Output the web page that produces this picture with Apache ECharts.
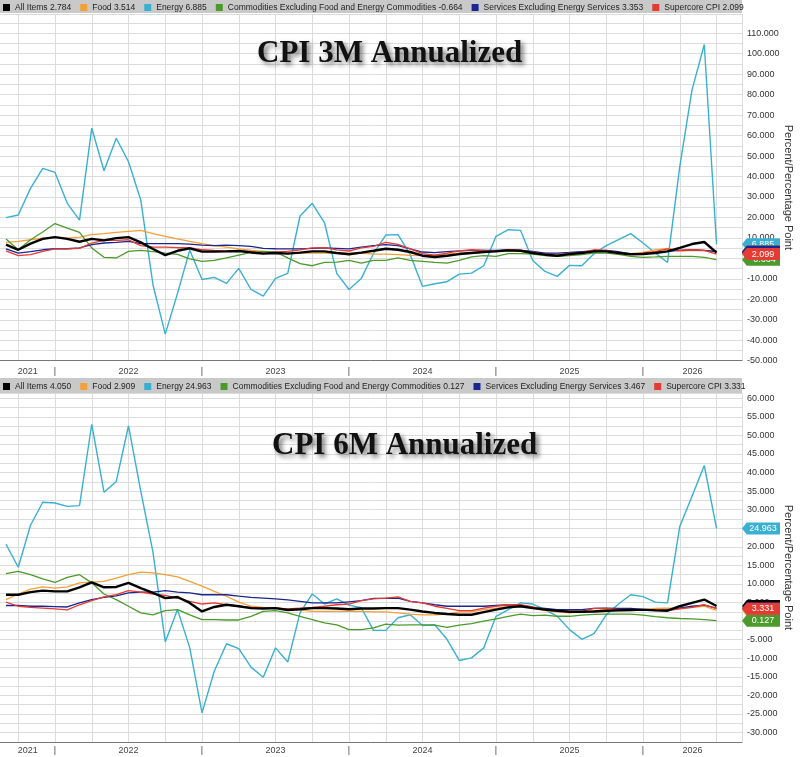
<!DOCTYPE html>
<html>
<head>
<meta charset="utf-8">
<title>CPI 3M / 6M Annualized</title>
<script src="https://cdn.jsdelivr.net/npm/echarts@6/dist/echarts.min.js"></script>
<style>
  html, body { margin: 0; padding: 0; background: #fff; }
  #main { width: 800px; height: 757px; }
</style>
</head>
<body>
<div id="main"></div>
<script>
// monthly observations, Mar 2021 .. Jan 2026
const months = [
  '2021-03','2021-04','2021-05','2021-06','2021-07','2021-08','2021-09','2021-10','2021-11','2021-12',
  '2022-01','2022-02','2022-03','2022-04','2022-05','2022-06','2022-07','2022-08','2022-09','2022-10','2022-11','2022-12',
  '2023-01','2023-02','2023-03','2023-04','2023-05','2023-06','2023-07','2023-08','2023-09','2023-10','2023-11','2023-12',
  '2024-01','2024-02','2024-03','2024-04','2024-05','2024-06','2024-07','2024-08','2024-09','2024-10','2024-11','2024-12',
  '2025-01','2025-02','2025-03','2025-04','2025-05','2025-06','2025-07','2025-08','2025-09','2025-10','2025-11','2025-12',
  '2026-01'
];

const names = ['All Items', 'Food', 'Energy', 'Commodities Excluding Food and Energy Commodities',
  'Services Excluding Energy Services', 'Supercore CPI'];

// 3M annualized
const allItems3m = [6.7,4.2,7.2,9.5,10.4,9.5,8.1,9.5,8.8,9.9, 10.4,7.8,4.6,1.6,3.7,4.9,3.3,3.3,3.4,3.6,
  2.9,2.3,2.6,2.3,2.8,3.4,3.4,2.6,2.0,2.8, 3.7,4.7,4.2,3.1,1.3,0.7,1.3,2.1,2.6,3.1,
  3.4,3.9,3.7,2.6,1.8,1.3,2.1,2.6,3.4,3.4, 2.6,2.0,2.1,2.6,3.4,5.1,7.0,8.0,2.784];
const food3m = [7.8,8.3,9.1,9.9,10.4,9.9,10.4,11.6,12.1,12.7, 13.2,13.7,12.1,10.8,9.5,8.3,7.2,6.2,5.5,4.6,
  3.9,3.4,2.9,2.6,2.6,2.6,2.6,2.6,2.6,2.6, 2.1,2.1,1.8,1.5,1.3,1.6,2.1,2.6,2.9,3.3,
  3.6,3.6,3.4,2.9,2.6,2.0,2.6,3.1,3.7,3.7, 2.9,2.3,2.9,4.2,4.9,3.4,3.9,3.7,3.514];
const energy3m = [19.9,21.2,34.2,44.0,42.0,26.9,18.7,63.6,42.8,58.7, 47.2,28.5,-13.0,-37.0,-17.1,4.0,-10.3,-9.3,-12.2,-4.9,
  -15.2,-18.4,-9.8,-7.3,20.7,26.9,17.4,-7.3,-15.2,-9.8, 2.4,11.4,11.6,1.8,-13.7,-12.4,-11.4,-7.7,-7.2,-3.6,
  10.8,14.0,13.7,-1.0,-6.4,-8.8,-3.4,-3.6,2.3,6.2, 9.1,12.1,7.5,2.6,-2.0,44.8,82.3,104.5,6.885];
const coreGoods3m = [9.5,4.2,9.1,12.9,17.0,14.8,12.7,5.1,0.5,0.2, 3.4,3.9,3.3,2.6,2.0,-0.2,-1.5,-1.0,0.2,1.6,
  2.9,3.4,3.1,0.2,-2.6,-3.6,-2.0,-1.8,-1.0,-2.3, -1.0,-1.0,0.2,-1.0,-1.5,-2.0,-2.3,-1.0,0.7,1.3,
  1.0,2.3,2.3,2.1,1.3,1.0,1.3,1.8,2.6,2.6, 2.0,1.0,0.5,0.7,1.0,1.0,1.0,0.5,-0.664];
const services3m = [4.6,2.6,3.3,4.2,4.7,4.7,5.1,6.7,7.5,7.8, 8.3,7.2,7.2,7.2,7.2,7.0,6.5,6.2,6.5,6.2,
  5.9,4.9,4.7,4.6,4.6,4.9,5.1,4.9,4.6,5.5, 6.2,6.7,6.2,4.6,3.1,2.8,3.3,3.7,3.9,3.9,
  3.9,4.2,3.9,3.4,2.6,2.6,2.9,3.3,3.7,3.9, 3.3,2.1,2.3,2.9,3.4,3.9,4.2,3.9,3.353];
const supercore3m = [3.7,1.3,1.8,3.4,4.6,4.6,4.9,7.5,8.8,8.8, 9.1,6.2,5.5,5.5,5.2,5.2,4.2,3.9,3.7,3.6,
  3.4,2.6,3.1,3.4,4.2,5.1,5.2,4.2,3.6,5.1, 5.9,7.8,6.8,4.6,2.3,1.6,2.6,3.7,4.2,3.9,
  3.4,4.2,3.9,3.1,1.8,1.3,2.6,2.9,4.2,3.9, 2.6,2.0,2.6,3.3,4.6,3.9,4.2,3.9,2.099];

// 6M annualized
const allItems6m = [7.1,7.1,7.8,8.2,8.0,8.0,9.1,10.4,9.1,9.2, 10.3,8.9,7.6,6.2,6.5,4.9,2.6,3.8,4.4,4.0,
  3.5,3.4,3.5,3.0,3.2,3.5,3.5,3.4,3.2,3.4, 3.4,3.5,3.5,3.1,2.6,2.2,1.9,1.7,1.7,2.4,
  3.1,3.7,4.0,3.5,3.1,2.8,2.5,2.5,2.6,2.8, 2.9,3.0,3.1,2.9,2.8,4.0,4.9,5.8,4.050];
const food6m = [5.8,7.3,8.6,9.2,8.9,9.2,10.3,10.5,10.7,11.6, 12.5,13.2,13.0,12.5,11.9,10.7,9.4,8.0,6.7,5.1,
  4.0,3.7,3.5,3.3,3.0,2.6,2.6,2.6,2.6,2.6, 2.5,2.5,2.2,1.9,1.7,1.7,1.9,2.5,2.5,3.1,
  3.4,4.0,4.2,3.5,2.8,2.5,2.2,2.5,2.8,3.1, 2.8,2.8,3.1,3.4,3.5,3.4,3.7,4.0,2.909];
const energy6m = [20.7,14.5,25.8,32.0,31.8,30.9,31.1,53.0,34.7,37.6, 52.6,35.0,18.5,-5.6,3.1,-7.2,-24.7,-13.5,-6.1,-7.4,
  -12.4,-15.1,-7.2,-11.0,2.2,7.3,4.6,6.0,4.3,3.6, -2.5,-2.5,0.9,1.7,-1.2,-1.0,-4.9,-10.6,-9.9,-7.2,
  1.3,3.1,4.9,4.6,3.1,1.3,-2.3,-4.9,-3.4,1.7, 4.6,7.1,6.6,5.1,4.9,25.5,33.6,41.9,24.963];
const coreGoods6m = [12.8,13.4,12.5,11.4,10.4,11.8,12.5,10.3,7.3,5.8, 4.0,2.2,1.7,2.8,3.1,1.7,0.4,0.4,0.3,0.3,
  1.3,2.6,2.8,2.2,1.3,0.4,-0.5,-1.0,-2.3,-2.3, -1.8,-0.8,-1.1,-1.0,-1.0,-1.1,-1.7,-1.1,-0.7,0.0,
  0.6,1.3,1.9,1.5,1.6,1.3,1.3,1.6,1.8,1.9, 1.9,1.9,1.6,1.2,0.9,0.7,0.6,0.4,0.127];
const services6m = [4.2,4.2,4.0,4.0,3.9,3.8,4.9,5.8,6.4,6.8, 7.6,7.8,7.8,8.2,7.8,7.6,7.1,7.1,7.1,6.7,
  6.4,6.2,6.0,5.7,5.3,4.9,4.9,4.9,5.2,5.5, 6.1,6.1,6.2,5.3,4.9,4.4,4.0,4.0,4.0,4.0,
  4.2,4.4,4.3,3.7,3.4,3.1,3.1,3.1,3.4,3.5, 3.4,3.4,3.1,3.0,3.0,3.5,4.0,4.3,3.467];
const supercore6m = [5.1,4.0,3.7,3.5,3.3,3.0,4.4,5.5,6.5,7.1, 8.2,7.8,7.3,6.9,6.2,5.3,4.6,4.9,4.4,4.0,
  3.7,3.5,3.5,3.3,3.5,3.7,4.0,4.4,4.6,5.5, 6.0,6.2,6.5,5.3,4.9,4.0,3.4,2.8,2.8,3.5,
  4.0,4.4,4.4,3.8,3.1,2.8,2.6,2.6,3.4,3.4, 3.1,3.1,3.1,3.1,2.8,3.3,3.7,4.4,3.331];

const panel3m = [allItems3m, food3m, energy3m, coreGoods3m, services3m, supercore3m];
const panel6m = [allItems6m, food6m, energy6m, coreGoods6m, services6m, supercore6m];

const colors = ['#000000', '#f4a038', '#38b0d2', '#4b9a2b', '#1c2590', '#e43b33'];
const widths = [2.4, 1.3, 1.4, 1.3, 1.3, 1.3];
const lineZ = [5, 3, 2, 3, 3, 4];
const tagZ = [6, 6, 5, 8, 7, 9];

const sans = "'Liberation Sans', Arial, sans-serif";
const X_MAX = 62.08;

// months since Jan 2021
function monthPos(m) {
  const p = m.split('-');
  return (+p[0] - 2021) * 12 + (+p[1] - 1);
}

function makeSeries(panel, idx) {
  return panel.map((arr, k) => {
    const last = arr[arr.length - 1];
    return {
      name: names[k],
      type: 'line',
      xAxisIndex: idx,
      yAxisIndex: idx,
      showSymbol: false,
      z: lineZ[k],
      color: colors[k],
      lineStyle: { width: widths[k], color: colors[k] },
      data: months.map((m, i) => [monthPos(m), arr[i]]),
      markPoint: {
        z: tagZ[k],
        silent: true,
        symbol: 'path://M0,5L5,0L40,0L40,10L5,10Z',
        symbolSize: [38, 12],
        symbolKeepAspect: false,
        symbolOffset: [20, 0],
        itemStyle: { color: colors[k] },
        label: {
          show: true, color: '#fff', fontSize: 9, fontFamily: sans,
          offset: [2, 0],
          formatter: p => p.value.toFixed(3)
        },
        data: [{ coord: [62, last], value: last }]
      }
    };
  });
}

function makeX(idx, margin) {
  const lab = { fontSize: 9, fontFamily: sans, color: '#444' };
  return {
    type: 'value', gridIndex: idx, min: 0, max: X_MAX, interval: 3,
    axisLine: { show: true, onZero: false, lineStyle: { color: '#777', width: 1 } },
    axisTick: { show: false },
    splitLine: { show: true, lineStyle: { color: '#dcdcdc', width: 1 } },
    axisLabel: {
      margin: margin, color: '#444', fontSize: 9, fontFamily: sans,
      formatter: v => {
        if (v === 3) return '{a|2021}';
        if (v === 60) return '{b|2026}';
        if (v > 0 && v < 60 && v % 12 === 0) return String(2021 + v / 12);
        if (v % 12 === 6) return '|';
        return '';
      },
      rich: {
        a: Object.assign({ padding: [0, 0, 0, 19] }, lab),
        b: Object.assign({ padding: [0, 48, 0, 0] }, lab)
      }
    }
  };
}

function makeY(idx, min, max, interval, step) {
  return {
    type: 'value', gridIndex: idx, position: 'right', min: min, max: max, interval: interval,
    name: 'Percent/Percentage Point', nameLocation: 'middle', nameRotate: -90, nameGap: 41,
    nameMoveOverlap: false,
    nameTextStyle: { fontSize: 11, color: '#333', fontFamily: sans },
    axisLine: { show: true, lineStyle: { color: '#666' } },
    axisTick: { show: true, length: 3, lineStyle: { color: '#666' } },
    splitLine: { show: true, lineStyle: { color: '#dcdcdc', width: 1 } },
    axisLabel: {
      margin: 5, color: '#333', fontSize: 9, fontFamily: sans,
      showMaxLabel: false,
      formatter: v => {
        const r = v / step;
        return Math.abs(r - Math.round(r)) < 1e-6 ? v.toFixed(3) : '';
      }
    }
  };
}

function makeLegend(top, panel) {
  return {
    top: top, left: 3, padding: 0, itemGap: 9, itemWidth: 7, itemHeight: 7, icon: 'rect',
    selectedMode: false,
    data: names,
    formatter: n => n + ' ' + panel[names.indexOf(n)][months.length - 1].toFixed(3),
    textStyle: { fontSize: 8.5, color: '#222', fontFamily: sans }
  };
}

const titleStyle = {
  fontFamily: "'Liberation Serif', 'DejaVu Serif', serif", fontWeight: 'bold', fontSize: 31,
  color: '#111', textShadowColor: 'rgba(0,0,0,0.55)', textShadowBlur: 5,
  textShadowOffsetX: 3, textShadowOffsetY: 3
};

const chart = echarts.init(document.getElementById('main'));
chart.setOption({
  animation: false,
  backgroundColor: '#fff',
  graphic: [
    { type: 'rect', shape: { x: 0, y: 0, width: 742, height: 13 }, style: { fill: '#c9c9c9' }, z: 0 },
    { type: 'rect', shape: { x: 0, y: 378, width: 742, height: 15 }, style: { fill: '#c9c9c9' }, z: 0 }
  ],
  title: [
    { text: 'CPI 3M Annualized', left: 257, top: 38, padding: 0, textStyle: titleStyle },
    { text: 'CPI 6M Annualized', left: 272, top: 430, padding: 0, textStyle: titleStyle }
  ],
  legend: [makeLegend(3, panel3m), makeLegend(382, panel6m)],
  grid: [
    { left: -18.5, right: 58, top: 14, height: 346.7, outerBoundsMode: 'none' },
    { left: -18.5, right: 58, top: 393, height: 348.8, outerBoundsMode: 'none' }
  ],
  xAxis: [makeX(0, 6), makeX(1, 4)],
  yAxis: [makeY(0, -50, 119.4, 5, 10), makeY(1, -32.5, 61.42, 2.5, 5)],
  series: makeSeries(panel3m, 0).concat(makeSeries(panel6m, 1))
});
</script>
</body>
</html>
